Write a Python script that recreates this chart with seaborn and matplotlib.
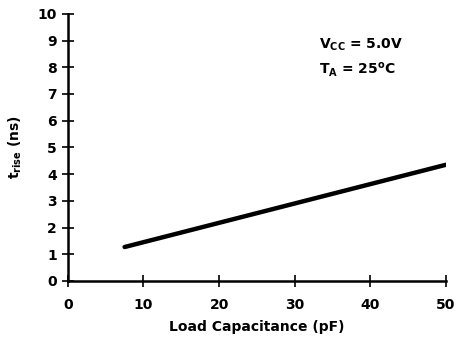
import matplotlib
matplotlib.use("Agg")
import matplotlib.pyplot as plt
import seaborn as sns
import pandas as pd

load_capacitance_pf = [7.5, 50]
t_rise_ns = [1.27, 4.35]
x_ticks = [0, 10, 20, 30, 40, 50]
y_ticks = [0, 1, 2, 3, 4, 5, 6, 7, 8, 9, 10]

sns.set_style("white")
plt.rcParams['font.family'] = ['DejaVu Sans']
plt.rcParams['font.weight'] = 'bold'
plt.rcParams['mathtext.default'] = 'regular'
plt.rcParams['text.color'] = 'black'
plt.rcParams['axes.labelcolor'] = 'black'
plt.rcParams['xtick.color'] = 'black'
plt.rcParams['ytick.color'] = 'black'

df = pd.DataFrame({"C": load_capacitance_pf, "t": t_rise_ns})

fig = plt.figure(figsize=(4.65, 3.46), dpi=100)
ax = fig.add_axes([0.146, 0.188, 0.813, 0.772])
sns.lineplot(data=df, x="C", y="t", ax=ax, color="black", linewidth=3.2)

ax.set_xlim(0, 50)
ax.set_ylim(0, 10)
ax.set_xticks(x_ticks)
ax.set_yticks(y_ticks)
ax.set_xticklabels([str(v) for v in x_ticks], fontsize=10, fontweight='bold')
ax.set_yticklabels([str(v) for v in y_ticks], fontsize=10, fontweight='bold')
ax.tick_params(axis='both', direction='inout', length=8, width=1.2, colors='black',
               bottom=True, left=True)
ax.tick_params(axis='x', pad=8)
ax.tick_params(axis='y', pad=4)

for s in ['top', 'right']:
    ax.spines[s].set_visible(False)
for s in ['left', 'bottom']:
    ax.spines[s].set_color('black')
    ax.spines[s].set_linewidth(1.8)

ax.set_xlabel("Load Capacitance (pF)", fontsize=10, fontweight='bold', labelpad=6)
ax.set_ylabel(r"$\mathbf{t_{rise}}$ (ns)", fontsize=10, fontweight='bold', labelpad=10)

ax.text(33.2, 8.85, r"$\mathbf{V_{CC}}$ = 5.0V", fontsize=10, fontweight='bold', va='center')
ax.text(33.2, 7.9, r"$\mathbf{T_{A}}$ = 25$\mathbf{^{o}}$C", fontsize=10, fontweight='bold', va='center')

fig.savefig("out.png", dpi=100)
